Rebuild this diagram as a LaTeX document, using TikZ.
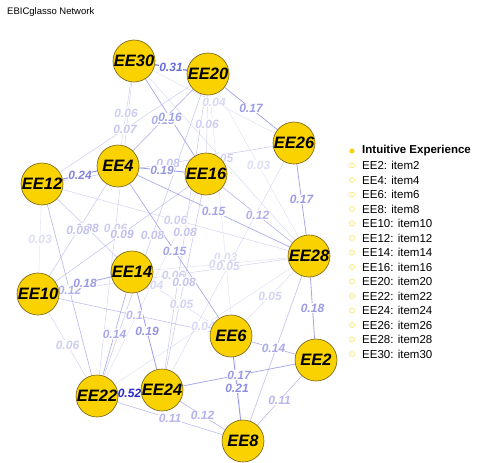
\documentclass[tikz,border=0pt]{standalone}
\usepackage{fontspec}
\setmainfont{Liberation Sans}
\usetikzlibrary{calc}
\definecolor{nodefill}{RGB}{250,210,0}
\definecolor{nodeborder}{RGB}{115,95,20}
\definecolor{eb}{RGB}{40,40,200}
\pgfdeclarelayer{edgelayer}
\pgfsetlayers{edgelayer,main}
\tikzset{
  item/.style={circle, minimum size=42pt, inner sep=0pt, fill=nodefill, draw=nodeborder, line width=0.6pt,
    font=\bfseries\itshape\fontsize{16.5}{16.5}\selectfont},
  wlabel/.style={font=\bfseries\itshape\fontsize{12}{12}\selectfont, fill=white, inner sep=0.3pt},
  legtext/.style={anchor=west, inner sep=0pt, font=\fontsize{11.5}{11.5}\selectfont},
  legmark/.style={circle, draw=nodefill!55!white, line width=0.8pt, minimum size=5pt, inner sep=0pt},
  legdot/.style={circle, fill=nodefill, minimum size=5pt, inner sep=0pt},
}
\begin{document}
\begin{tikzpicture}[x=1pt,y=-1pt]
\useasboundingbox (0,0) rectangle (477,463);
\node[anchor=west, inner sep=0pt, font=\fontsize{9.5}{9.5}\selectfont] (title) at (7,12) {EBICglasso Network};

% nodes
\node[item] (EE30) at (134,61) {EE30};
\node[item] (EE20) at (208,74) {EE20};
\node[item] (EE26) at (294,143) {EE26};
\node[item] (EE4)  at (118,166) {EE4};
\node[item] (EE16) at (206,174) {EE16};
\node[item] (EE12) at (42,184) {EE12};
\node[item] (EE28) at (309,256) {EE28};
\node[item] (EE14) at (132,272) {EE14};
\node[item] (EE10) at (38,294) {EE10};
\node[item] (EE6)  at (231,336) {EE6};
\node[item] (EE2)  at (316,360) {EE2};
\node[item] (EE22) at (97,396) {EE22};
\node[item] (EE24) at (162,390) {EE24};
\node[item] (EE8)  at (243,441) {EE8};

\def\edgelist{EE12/EE10/0.03, EE20/EE28/0.03, EE20/EE8/0.03, EE30/EE26/0.04, EE14/EE28/0.04,
  EE16/EE22/0.04, EE28/EE22/0.04, EE30/EE28/0.05, EE26/EE24/0.05, EE14/EE6/0.05, EE28/EE6/0.05,
  EE30/EE4/0.06, EE20/EE16/0.06, EE30/EE22/0.06, EE12/EE28/0.06, EE10/EE28/0.06, EE10/EE22/0.06,
  EE20/EE12/0.07, EE12/EE26/0.08, EE12/EE14/0.08, EE4/EE10/0.08, EE20/EE22/0.08, EE20/EE24/0.08,
  EE16/EE24/0.08, EE16/EE10/0.09, EE10/EE6/0.1, EE28/EE8/0.1, EE22/EE8/0.11, EE2/EE8/0.11,
  EE12/EE22/0.12, EE16/EE28/0.12, EE24/EE8/0.12, EE20/EE4/0.13, EE22/EE14/0.14, EE6/EE2/0.14,
  EE4/EE28/0.15, EE4/EE6/0.15, EE30/EE16/0.16, EE20/EE26/0.17, EE26/EE28/0.17, EE24/EE2/0.17,
  EE10/EE14/0.18, EE28/EE2/0.18, EE4/EE16/0.19, EE14/EE24/0.19, EE6/EE8/0.21, EE12/EE4/0.24,
  EE30/EE20/0.31, EE22/EE24/0.52}

\begin{pgfonlayer}{edgelayer}
\foreach \a/\b/\w in \edgelist {
  \pgfmathtruncatemacro\p{5+90*(\w/0.52)^0.8}
  \pgfmathsetmacro\lw{0.35+1.3*\w/0.52}
  \draw[draw=eb!\p!white, line width=\lw pt] (\a) -- (\b);
}
\foreach \a/\b/\w in \edgelist {
  \pgfmathtruncatemacro\p{5+95*(\w/0.52)^0.75}
  \node[wlabel, text=eb!\p!white] (l\a\b) at ($(\a)!0.5!(\b)$) {\w};
}
\end{pgfonlayer}

% legend
\node[legdot] (ldot) at (352,151) {};
\node[legtext, font=\bfseries\fontsize{11.5}{11.5}\selectfont] (lhead) at (362,151) {Intuitive Experience};
\foreach \n [count=\i] in {2,4,6,8,10,12,14,16,20,22,24,26,28,30} {
  \node[legmark] (lm\n) at (352,{151+14.5*\i}) {};
  \node[legtext] (lt\n) at (362,{151+14.5*\i}) {EE\n: item\n};
}
\end{tikzpicture}
\end{document}
